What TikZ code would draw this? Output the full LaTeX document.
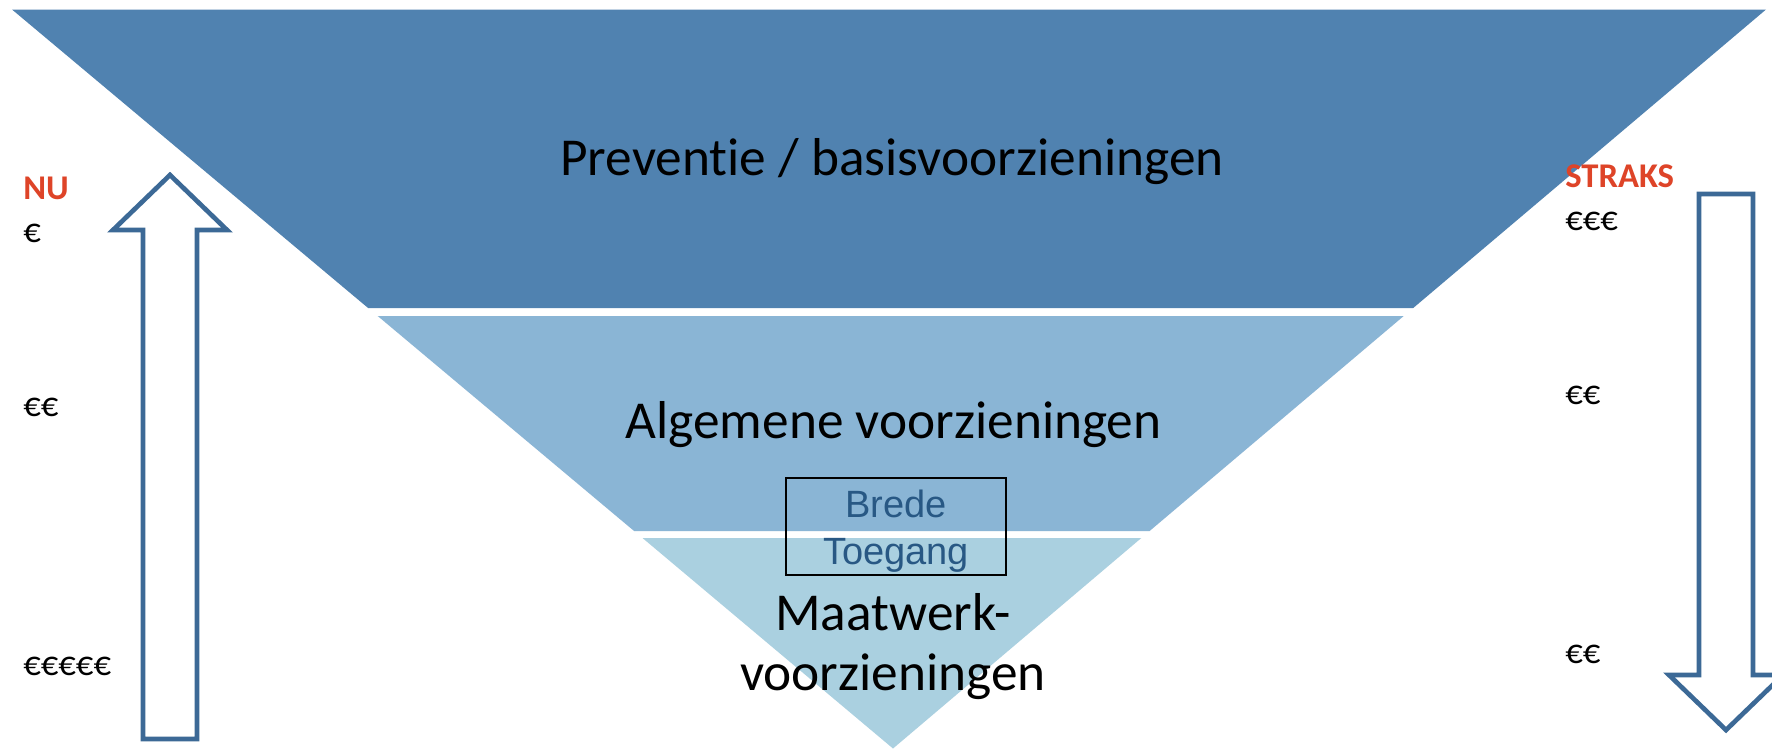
\documentclass[tikz,border=0pt]{standalone}
\usepackage{fontspec}
\setmainfont{Carlito}[Ligatures=NoCommon]
\newfontfamily\arialfont{Liberation Sans}
\usepackage{tikz}

\definecolor{bandtop}{RGB}{80,130,176}
\definecolor{bandmid}{RGB}{138,181,213}
\definecolor{bandlow}{RGB}{170,208,224}
\definecolor{arrowblue}{RGB}{60,105,150}
\definecolor{textblue}{RGB}{40,88,132}
\definecolor{labelred}{RGB}{222,68,40}

\begin{document}
\begin{tikzpicture}[x=0.75pt,y=0.75pt,yscale=-1,xscale=1]
%set diagram frame to 1772 x 750
\clip (0,0) rectangle (1772,750);
\fill[white] (0,0) rectangle (1772,750);

%Shape: Trapezoid [top band]
\fill[bandtop] (12,9.5) -- (1766,9.5) -- (1413.2,308) -- (368.1,308) -- cycle;
%Shape: Trapezoid [middle band]
\fill[bandmid] (377.7,316) -- (1403.7,316) -- (1149.6,531) -- (634.1,531) -- cycle;
%Shape: Triangle [low band]
\fill[bandlow] (642.5,538) -- (1141.3,538) -- (893,748.5) -- cycle;

%Shape: Up Arrow
\draw[arrowblue, line width=3.5pt, line join=miter, fill=white] (170,175) -- (227,230) -- (197,230) -- (197,739) -- (143,739) -- (143,230) -- (113,230) -- cycle;
%Shape: Down Arrow
\draw[arrowblue, line width=3.5pt, line join=miter, fill=white] (1726,730) -- (1783,675) -- (1753,675) -- (1753,194) -- (1699,194) -- (1699,675) -- (1669,675) -- cycle;

%Shape: Rectangle
\draw[black, line width=1.2pt] (786,478) rectangle (1006,575);

% Text Node
\draw (892,175) node (preventie) [anchor=base][inner sep=0pt] {\fontsize{40}{48}\selectfont Preventie / basisvoorzieningen};
% Text Node
\draw (893.5,438) node (algemeen) [anchor=base][inner sep=0pt] {\fontsize{40}{48}\selectfont Algemene voorzieningen};
% Text Node
\draw (896,517) node (brede) [anchor=base][inner sep=0pt] {\arialfont\fontsize{28.5}{34}\selectfont\color{textblue} Brede};
% Text Node
\draw (896,564) node (toegang) [anchor=base][inner sep=0pt] {\arialfont\fontsize{28.5}{34}\selectfont\color{textblue} Toegang};
% Text Node
\draw (893,630) node (maatwerk) [anchor=base][inner sep=0pt] {\fontsize{40}{48}\selectfont Maatwerk-};
% Text Node
\draw (893,690) node (maatvoorz) [anchor=base][inner sep=0pt] {\fontsize{40}{48}\selectfont voorzieningen};

% Text Node
\draw (23,199) node (nu) [anchor=base west][inner sep=0pt] {\fontsize{26}{31}\selectfont\bfseries\color{labelred} NU};
% Text Node
\draw (23,242) node (nuhoog) [anchor=base west][inner sep=0pt] {\fontsize{26}{31}\selectfont €};
% Text Node
\draw (23,416) node (numidden) [anchor=base west][inner sep=0pt] {\fontsize{26}{31}\selectfont €€};
% Text Node
\draw (23,675) node (nulaag) [anchor=base west][inner sep=0pt] {\fontsize{26}{31}\selectfont €€€€€};

% Text Node
\draw (1565,187) node (straks) [anchor=base west][inner sep=0pt] {\fontsize{26}{31}\selectfont\bfseries\color{labelred} STRAKS};
% Text Node
\draw (1565,230) node (strakshoog) [anchor=base west][inner sep=0pt] {\fontsize{26}{31}\selectfont €€€};
% Text Node
\draw (1565,404) node (straksmidden) [anchor=base west][inner sep=0pt] {\fontsize{26}{31}\selectfont €€};
% Text Node
\draw (1565,663) node (strakslaag) [anchor=base west][inner sep=0pt] {\fontsize{26}{31}\selectfont €€};

\end{tikzpicture}
\end{document}
